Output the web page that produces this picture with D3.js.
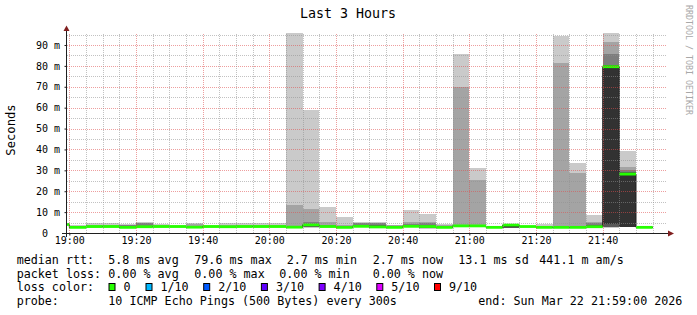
<!DOCTYPE html>
<html>
<head>
<meta charset="utf-8">
<script src="https://cdn.jsdelivr.net/npm/d3@7"></script>
<style>
body { margin: 0; background: #fff; }
text { font-family: "DejaVu Sans Mono", monospace; }
</style>
</head>
<body>
<div id="graphDiv"></div>
<script>
// 5 minute steps (start of each step)
var slots = ["18:55","19:00","19:05","19:10","19:15","19:20","19:25","19:30","19:35","19:40",
  "19:45","19:50","19:55","20:00","20:05","20:10","20:15","20:20","20:25","20:30",
  "20:35","20:40","20:45","20:50","20:55","21:00","21:05","21:10","21:15","21:20",
  "21:25","21:30","21:35","21:40","21:45","21:50"];

// median rtt (ms)
var median = [4.1,2.7,3.1,3.1,2.7,3.0,3.1,3.1,2.8,3.1,3.0,3.1,3.1,3.1,2.8,3.9,3.1,2.7,3.2,2.9,
  2.7,3.2,3.1,2.7,3.4,3.4,2.7,3.8,3.1,2.7,2.7,2.7,3.0,79.6,28.2,2.7];

// sorted pings (ms): smoke bands go from low rank to high rank
var pingMin = [3.8,2.4,2.6,2.7,2.4,2.6,2.7,2.7,2.4,2.7,2.6,2.7,2.7,2.7,2.4,2.5,2.7,2.4,2.7,2.5,
  2.4,2.7,1.9,2.3,2.8,2.8,2.3,2.5,2.7,2.4,2.4,2.4,2.5,2.6,2.8,2.4];
var pingLow = [3.9,2.5,2.8,2.9,2.5,2.8,2.8,2.9,2.6,2.9,2.8,2.9,2.9,2.9,2.5,2.7,2.8,2.5,2.8,2.6,
  2.5,2.8,2.3,2.4,2.9,3.0,2.4,2.6,2.8,2.5,2.5,2.5,2.7,2.7,2.9,2.5];
var ping5 = [4.0,2.6,3.0,3.0,2.6,2.9,3.0,3.0,2.7,3.0,2.9,3.0,3.0,3.0,2.7,3.4,3.0,2.6,3.0,2.8,
  2.6,3.0,2.9,2.6,3.2,3.2,2.6,3.1,3.0,2.6,2.6,2.6,2.9,4.3,3.0,2.6];
var ping6 = [4.1,2.8,3.2,3.2,2.8,3.1,3.2,3.2,2.9,3.2,3.1,3.2,3.2,3.2,2.9,4.1,3.2,2.8,3.3,3.0,
  2.8,3.3,3.2,2.8,3.5,3.5,2.8,3.8,3.2,2.8,2.8,2.8,3.3,80.0,28.6,2.8];
var ping7 = [4.2,2.9,3.3,3.3,3.0,3.5,3.3,3.2,3.2,3.2,3.2,3.2,3.3,3.3,3.2,4.5,3.4,3.0,3.8,3.6,
  3.0,3.8,3.6,2.9,3.6,3.6,2.9,3.8,3.2,2.9,3.0,3.0,4.0,80.5,29.0,2.9];
var ping8 = [4.2,3.0,3.4,3.5,3.7,4.6,3.5,3.3,3.5,3.3,3.4,3.4,3.5,3.5,3.5,5.3,3.9,3.2,4.8,4.6,
  3.5,4.5,4.6,3.2,3.8,4.0,3.0,3.9,3.3,3.1,3.5,3.5,4.9,85.7,30.0,3.0];
var ping9 = [4.3,3.4,3.7,4.0,3.9,4.8,3.8,3.4,4.1,3.4,3.7,3.7,3.8,3.8,13.4,11.6,5.3,3.8,5.0,4.9,
  3.7,5.3,5.3,3.7,69.7,25.4,3.1,3.9,3.3,3.4,81.4,28.7,5.4,91.4,31.7,3.1];
var pingMax = [4.5,3.9,4.6,4.9,4.2,5.3,4.3,3.6,4.6,3.7,4.6,4.6,4.9,4.9,95.7,58.9,12.5,7.8,5.3,5.2,
  4.0,11.0,9.1,4.4,85.7,31.1,3.2,4.0,3.4,4.3,94.3,33.5,8.7,95.7,39.2,3.3];

var yTicks = [0,10,20,30,40,50,60,70,80,90];
var xTicks = ["19:00","19:20","19:40","20:00","20:20","20:40","21:00","21:20","21:40"];

var rttStats = ["median rtt:","5.8 ms avg","79.6 ms max","2.7 ms min","2.7 ms now","13.1 ms sd","441.1 m am/s"];
var lossStats = ["packet loss:","0.00 % avg","0.00 % max","0.00 % min","0.00 % now"];
var lossLabels = ["0","1/10","2/10","3/10","4/10","5/10","9/10"];
var lossColors = ["#26ff00","#00b8ff","#0059ff","#5e00ff","#7e00ff","#dd00ff","#ff0000"];
var probeText = ["probe:","10 ICMP Echo Pings (500 Bytes) every 300s","end: Sun Mar 22 21:59:00 2026"];

var smokeColors = ["#cacaca","#a4a4a4","#7e7e7e","#585858","#323232"];

var W = 697, H = 315;
var parse = d3.timeParse("%Y-%m-%d %H:%M");
var day = "2026-03-22 ";

var svg = d3.select("#graphDiv").append("svg")
  .attr("width", W).attr("height", H)
  .style("background", "#fff");

var x = d3.scaleTime()
  .domain([parse(day + "18:59"), parse(day + "21:59")])
  .range([66, 666]);
var y = d3.scaleLinear().domain([0, 95.74]).range([233, 33]);

var rows = slots.map(function(s, i) {
  return {
    t: parse(day + s),
    med: median[i],
    lo: [pingMin[i], pingLow[i], pingLow[i], pingLow[i], ping5[i]],
    hi: [pingMax[i], ping9[i], ping8[i], ping7[i], ping6[i]]
  };
});
function x1(d) { return x(d3.timeMinute.offset(d.t, 5)); }

svg.append("clipPath").attr("id", "plot")
  .append("rect").attr("x", 67).attr("y", 33).attr("width", 599).attr("height", 200);

var plot = svg.append("g").attr("clip-path", "url(#plot)");

// smoke
smokeColors.forEach(function(col, k) {
  plot.append("g").selectAll("rect")
    .data(rows)
    .enter().append("rect")
    .attr("x", function(d) { return x(d.t); })
    .attr("width", function(d) { return x1(d) - x(d.t); })
    .attr("y", function(d) { return y(d.hi[k]); })
    .attr("height", function(d) { return Math.max(0, y(d.lo[k]) - y(d.hi[k])); })
    .attr("fill", col)
    .attr("shape-rendering", "crispEdges");
});

// median line
var steps = rows.concat([{ t: d3.timeMinute.offset(rows[rows.length - 1].t, 5), med: median[median.length - 1] }]);
plot.append("path")
  .datum(steps)
  .attr("fill", "none")
  .attr("stroke", "#202020")
  .attr("stroke-width", 1)
  .attr("d", d3.line().curve(d3.curveStepAfter)
    .x(function(d) { return x(d.t); })
    .y(function(d) { return y(d.med); }));

// loss coloured median
plot.append("g").selectAll("rect")
  .data(rows)
  .enter().append("rect")
  .attr("x", function(d) { return x(d.t); })
  .attr("width", function(d) { return x1(d) - x(d.t); })
  .attr("y", function(d) { return y(d.med) - 1.4; })
  .attr("height", 2.8)
  .attr("fill", lossColors[0]);

// grid
var minorY = d3.range(5, 96, 5);
var minorX = d3.timeMinute.every(5).range(parse(day + "19:00"), parse(day + "21:59"));
var majorX = xTicks.map(function(s) { return parse(day + s); });

var gy = svg.append("g").attr("transform", "translate(66.5,0)")
  .call(d3.axisLeft(y).tickValues(minorY).tickSize(-600).tickFormat(""));
gy.select(".domain").remove();
gy.selectAll("line")
  .attr("stroke", function(d) { return d % 10 === 0 ? "rgba(222,79,79,0.55)" : "rgba(143,143,143,0.55)"; })
  .attr("stroke-dasharray", "1,1")
  .attr("shape-rendering", "crispEdges");

var gx = svg.append("g").attr("transform", "translate(0,233)")
  .call(d3.axisBottom(x).tickValues(minorX).tickSize(-200).tickFormat(""));
gx.select(".domain").remove();
gx.selectAll("line")
  .attr("stroke", function(d) { return d.getMinutes() % 20 === 0 ? "rgba(222,79,79,0.55)" : "rgba(143,143,143,0.55)"; })
  .attr("stroke-dasharray", "1,1")
  .attr("shape-rendering", "crispEdges");

// axes with labels
var ay = svg.append("g").attr("transform", "translate(66.5,0)")
  .call(d3.axisLeft(y).tickValues(yTicks).tickSize(2).tickPadding(4.5)
    .tickFormat(function(d) { return d === 0 ? "0\u00a0\u00a0" : d + " m"; }));
ay.select(".domain").remove();
ay.selectAll("line").attr("stroke", "#1f1f1f");
ay.selectAll("text").attr("font-size", "10px").attr("fill", "#000")
  .style("font-family", "DejaVu Sans Mono");

var ax = svg.append("g").attr("transform", "translate(0,233.5)")
  .call(d3.axisBottom(x).tickValues(majorX).tickSize(2)
    .tickFormat(d3.timeFormat("%H:%M")));
ax.select(".domain").remove();
ax.selectAll("line").attr("stroke", "#1f1f1f");
ax.selectAll("text").attr("font-size", "10px").attr("fill", "#000")
  .attr("y", 10.5).attr("dy", 0)
  .style("font-family", "DejaVu Sans Mono");

// axis lines + arrows
svg.append("line").attr("x1", 62).attr("x2", 668).attr("y1", 233.5).attr("y2", 233.5)
  .attr("stroke", "#1f1f1f");
svg.append("line").attr("x1", 66.5).attr("x2", 66.5).attr("y1", 237).attr("y2", 31)
  .attr("stroke", "#1f1f1f");
svg.append("path").attr("d", "M668,230.5L674,233.5L668,236.5Z").attr("fill", "#801f1f");
svg.append("path").attr("d", "M63.5,31L66.5,25.5L69.5,31Z").attr("fill", "#801f1f");

// titles
svg.append("text").attr("x", 348).attr("y", 18).attr("text-anchor", "middle")
  .attr("font-size", "13.3px").text("Last 3 Hours");
svg.append("text").attr("transform", "translate(15,130) rotate(-90)")
  .attr("text-anchor", "middle").attr("font-size", "12.2px").text("Seconds");
svg.append("text").attr("transform", "translate(685.5,5) rotate(90)")
  .attr("font-size", "8.3px").attr("fill", "#a8a8a8").text("RRDTOOL / TOBI OETIKER");

// legend
var legendFont = "11.7px";
var t1 = svg.append("text").attr("y", 264).attr("font-size", legendFont);
var x1pos = [16.7, 108.3, 194.3, 286.7, 372.7, 458.3, 539.3];
rttStats.forEach(function(s, i) { t1.append("tspan").attr("x", x1pos[i]).text(s); });

var t2 = svg.append("text").attr("y", 277.7).attr("font-size", legendFont);
var x2pos = [16.7, 108.3, 194.3, 279.3, 372.7];
lossStats.forEach(function(s, i) { t2.append("tspan").attr("x", x2pos[i]).text(s); });

svg.append("text").attr("x", 16.7).attr("y", 291.4).attr("font-size", legendFont).text("loss color:");
var boxX = [108.5, 145.5, 203.2, 260.9, 318.6, 376.3, 434];
lossLabels.forEach(function(s, i) {
  svg.append("rect").attr("x", boxX[i] + 0.5).attr("y", 283.5).attr("width", 6).attr("height", 7)
    .attr("fill", lossColors[i]).attr("stroke", "#000").attr("stroke-width", 1);
  svg.append("text").attr("x", boxX[i] + 15).attr("y", 291.4).attr("font-size", legendFont).text(s);
});

var t4 = svg.append("text").attr("y", 305).attr("font-size", legendFont);
var x4pos = [16.7, 108.3, 478.3];
probeText.forEach(function(s, i) { t4.append("tspan").attr("x", x4pos[i]).text(s); });
</script>
</body>
</html>
